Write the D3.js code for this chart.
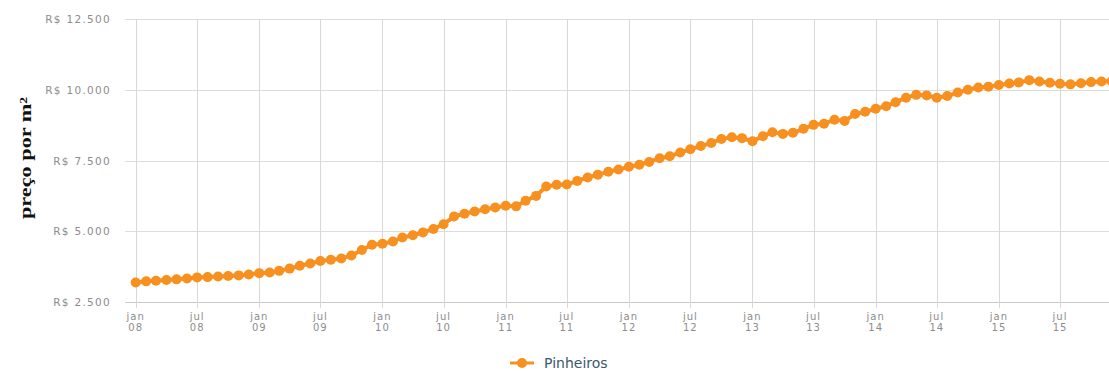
<!DOCTYPE html>
<html>
<head>
<meta charset="utf-8">
<script src="https://cdn.jsdelivr.net/npm/d3@7/dist/d3.min.js"></script>
<style>
  html, body { margin: 0; padding: 0; background: #fff; }
  svg { display: block; }
</style>
</head>
<body>
<svg id="chart" width="1109" height="371"></svg>
<script>
// Preço médio do m² em Pinheiros, mensal, jan/2008 em diante (R$)
const seriesName = "Pinheiros";
const firstYear = 2008;
const v2008 = [3190, 3230, 3250, 3280, 3300, 3330, 3370, 3380, 3400, 3420, 3440, 3470];
const v2009 = [3520, 3540, 3600, 3680, 3780, 3860, 3950, 3990, 4040, 4140, 4340, 4520];
const v2010 = [4560, 4640, 4780, 4860, 4960, 5080, 5250, 5520, 5620, 5700, 5780, 5840];
const v2011 = [5900, 5880, 6080, 6250, 6580, 6640, 6650, 6780, 6900, 7000, 7100, 7180];
const v2012 = [7280, 7350, 7450, 7580, 7650, 7780, 7900, 8010, 8120, 8260, 8320, 8290];
const v2013 = [8180, 8360, 8500, 8440, 8480, 8620, 8760, 8800, 8940, 8900, 9140, 9220];
const v2014 = [9330, 9420, 9560, 9720, 9820, 9800, 9720, 9780, 9900, 10000, 10080, 10110];
const v2015 = [10170, 10220, 10260, 10340, 10290, 10250, 10210, 10190, 10230, 10270, 10290, 10300];
const yearValues = [v2008, v2009, v2010, v2011, v2012, v2013, v2014, v2015];

const yTicks = [2500, 5000, 7500, 10000, 12500];
const monthNames = ["jan", "fev", "mar", "abr", "mai", "jun", "jul", "ago", "set", "out", "nov", "dez"];

const data = [];
yearValues.forEach((vals, i) => {
  vals.forEach((v, m) => data.push({ date: new Date(Date.UTC(firstYear + i, m, 1)), value: v }));
});

const svg = d3.select("#chart");
const W = 1109;
const plotTop = 19, plotBottom = 302;

const x = d3.scaleUtc()
  .domain([new Date(Date.UTC(2008, 0, 1)), new Date(Date.UTC(2015, 6, 1))])
  .range([135.7, 1060]);
const plotLeft = x(new Date(Date.UTC(2007, 11, 1)));

const y = d3.scaleLinear().domain([2500, 12500]).range([plotBottom, plotTop]);

const br = d3.formatLocale({ decimal: ",", thousands: ".", grouping: [3], currency: ["R$ ", ""] });
const fmt = br.format("$,.0f");

const xTicks = d3.utcMonth.every(6).range(new Date(Date.UTC(2008, 0, 1)), new Date(Date.UTC(2015, 11, 2)));

// grade horizontal
svg.append("g").selectAll("line").data(yTicks).join("line")
  .attr("x1", plotLeft).attr("x2", W)
  .attr("y1", d => Math.round(y(d)) + 0.5).attr("y2", d => Math.round(y(d)) + 0.5)
  .attr("stroke", d => d === 2500 ? "#c8c8c8" : "#dcdcdc").attr("stroke-width", 1);

// grade vertical + marcas do eixo
svg.append("g").selectAll("line").data(xTicks).join("line")
  .attr("x1", d => Math.round(x(d)) + 0.5).attr("x2", d => Math.round(x(d)) + 0.5)
  .attr("y1", plotTop).attr("y2", plotBottom + 6)
  .attr("stroke", "#d8d8d8").attr("stroke-width", 1);

// rótulos do eixo y
svg.append("g").selectAll("text").data(yTicks).join("text")
  .attr("x", 111).attr("y", d => y(d) + 4)
  .attr("text-anchor", "end")
  .attr("font-family", "DejaVu Sans, sans-serif").attr("font-size", 10.5)
  .attr("letter-spacing", 1.3)
  .attr("fill", "#8c8c8c")
  .text(d => fmt(d));

// rótulos do eixo x (mês / ano em duas linhas)
const xl = svg.append("g").selectAll("text").data(xTicks).join("text")
  .attr("text-anchor", "middle")
  .attr("font-family", "DejaVu Sans, sans-serif").attr("font-size", 10)
  .attr("letter-spacing", 1)
  .attr("fill", "#8c8c8c");
xl.append("tspan").attr("x", d => x(d)).attr("y", 320).text(d => monthNames[d.getUTCMonth()]);
xl.append("tspan").attr("x", d => x(d)).attr("y", 331).text(d => String(d.getUTCFullYear() % 100).padStart(2, "0"));

// título do eixo y
svg.append("text")
  .attr("transform", `translate(31, ${158}) rotate(-90)`)
  .attr("text-anchor", "middle")
  .attr("font-family", "Liberation Serif, serif").attr("font-weight", "bold")
  .attr("font-size", 16)
  .attr("textLength", 122).attr("lengthAdjust", "spacingAndGlyphs")
  .attr("fill", "#111")
  .text("preço por m²");

// série
const color = "#f7901e";
const line = d3.line().x(d => x(d.date)).y(d => y(d.value));
svg.append("path").datum(data)
  .attr("d", line).attr("fill", "none")
  .attr("stroke", color).attr("stroke-width", 4).attr("stroke-linejoin", "round");
svg.append("g").selectAll("circle").data(data).join("circle")
  .attr("cx", d => x(d.date)).attr("cy", d => y(d.value)).attr("r", 5)
  .attr("fill", color);

// legenda
const lg = svg.append("g").attr("transform", "translate(510, 363)");
lg.append("line").attr("x1", 0).attr("x2", 24).attr("y1", 0).attr("y2", 0)
  .attr("stroke", color).attr("stroke-width", 3);
lg.append("circle").attr("cx", 12).attr("cy", 0).attr("r", 5).attr("fill", color);
lg.append("text").attr("x", 34).attr("y", 5)
  .attr("font-family", "DejaVu Sans, sans-serif").attr("font-size", 14)
  .attr("fill", "#3e5770")
  .text(seriesName);
</script>
</body>
</html>
